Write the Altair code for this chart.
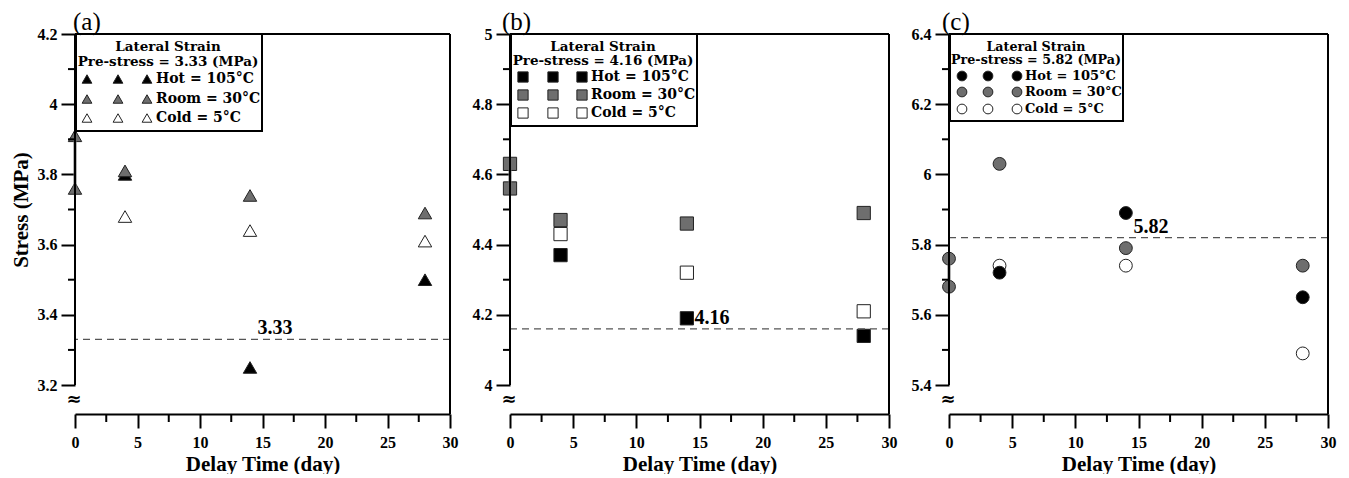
import altair as alt
import pandas as pd

# ---------------- data ----------------
PANEL_TAGS = ["(a)", "(b)", "(c)"]
PRESTRESS = [3.33, 4.16, 5.82]
PRESTRESS_TEXT = ["3.33", "4.16", "5.82"]
PRESTRESS_LABEL_X = [14.6, 14.6, 14.6]
PRESTRESS_LABEL_Y = [3.362, 4.19, 5.85]

SERIES = ["Hot", "Room", "Cold"]
SERIES_LABELS = ["Hot = 105°C", "Room = 30°C", "Cold = 5°C"]
LEGEND_TITLE = "Lateral Strain"
LEGEND_SUBTITLES = ["Pre-stress = 3.33 (MPa)", "Pre-stress = 4.16 (MPa)", "Pre-stress = 5.82 (MPa)"]

# panel (a) – triangles
A_HOT_X = [4, 14, 28]
A_HOT_Y = [3.80, 3.25, 3.50]
A_ROOM_X = [0, 0, 4, 14, 28]
A_ROOM_Y = [3.91, 3.76, 3.81, 3.74, 3.69]
A_COLD_X = [4, 14, 28]
A_COLD_Y = [3.68, 3.64, 3.61]

# panel (b) – squares
B_HOT_X = [4, 14, 28]
B_HOT_Y = [4.37, 4.19, 4.14]
B_ROOM_X = [0, 0, 4, 14, 28]
B_ROOM_Y = [4.63, 4.56, 4.47, 4.46, 4.49]
B_COLD_X = [4, 14, 28]
B_COLD_Y = [4.43, 4.32, 4.21]

# panel (c) – circles
C_HOT_X = [4, 14, 28]
C_HOT_Y = [5.72, 5.89, 5.65]
C_ROOM_X = [0, 0, 4, 14, 28]
C_ROOM_Y = [5.76, 5.68, 6.03, 5.79, 5.74]
C_COLD_X = [4, 14, 28]
C_COLD_Y = [5.74, 5.74, 5.49]

# axis ticks
X_MAJOR = [0, 5, 10, 15, 20, 25, 30]
X_MINOR = [2.5, 7.5, 12.5, 17.5, 22.5, 27.5]
A_Y_MAJOR = [3.2, 3.4, 3.6, 3.8, 4.0, 4.2]
A_Y_MINOR = [3.3, 3.5, 3.7, 3.9, 4.1]
B_Y_MAJOR = [4.0, 4.2, 4.4, 4.6, 4.8, 5.0]
B_Y_MINOR = [4.1, 4.3, 4.5, 4.7, 4.9]
C_Y_MAJOR = [5.4, 5.6, 5.8, 6.0, 6.2, 6.4]
C_Y_MINOR = [5.5, 5.7, 5.9, 6.1, 6.3]

# ---------------- styling / layout ----------------
FONT = "Liberation Serif"
LFONT = "DejaVu Serif"
FILLS = ["#000000", "#6e6e6e", "#ffffff"]
H = 380
WIDTHS = [375, 379, 379]
TITLE_DX = [-2, -8, -7]
BREAK_FRAC = 0.0826  # extra room below the lowest tick (axis break)
SHAPES = ["triangle-up", "square", "circle"]
MARK_SIZES = [180, 175, 165]
LEG_SYM_SIZES = [95, 105, 95]

LEGEND_LAYOUT = [
    dict(w=187, h=97, cx=93, ty=[13, 28], rows=[45, 65, 84], sx=[12, 43, 72], lx=81, fs_t=13.5, fs_r=14),
    dict(w=187, h=92, cx=93, ty=[13, 27], rows=[43, 61, 79], sx=[13, 43, 72], lx=81, fs_t=13.5, fs_r=14),
    dict(w=174, h=87, cx=87, ty=[13, 26], rows=[42, 58, 75], sx=[13, 39, 68], lx=76, fs_t=12.7, fs_r=13),
]

fill_scale = alt.Scale(domain=SERIES, range=FILLS)


def make_panel(i, hot, room, cold, y_major, y_minor):
    W = WIDTHS[i]
    lo, hi = y_major[0], y_major[-1]
    ydom = [lo - BREAK_FRAC * (hi - lo), hi]
    xs = alt.Scale(domain=[0, 30], nice=False, zero=False)
    ys = alt.Scale(domain=ydom, nice=False, zero=False)
    y_lo_px = H * (1 - (lo - ydom[0]) / (hi - ydom[0]))

    rows = []
    for name, (xx, yy) in (("Cold", cold), ("Hot", hot), ("Room", room)):
        for a, b in zip(xx, yy):
            rows.append({"day": a, "stress": b, "series": name})
    df = pd.DataFrame(rows)

    x_axis = alt.Axis(values=X_MAJOR, format="~g")
    y_axis = alt.Axis(values=y_major, format="~g", titleY=y_lo_px / 2)
    y_title = "Stress (MPa)" if i == 0 else None

    one = pd.DataFrame({"k": [0]})

    pts = alt.Chart(df).mark_point(filled=True, shape=SHAPES[i], size=MARK_SIZES[i], opacity=1,
                                   stroke="#222222", strokeWidth=1).encode(
        x=alt.X("day:Q", scale=xs, axis=x_axis, title="Delay Time (day)"),
        y=alt.Y("stress:Q", scale=ys, axis=y_axis, title=y_title),
        fill=alt.Fill("series:N", scale=fill_scale, legend=None),
    )

    # frame: y axis line (stops at lowest tick), top and right borders
    y_line = alt.Chart(one).mark_rule(color="black", strokeWidth=2).encode(
        x=alt.X(datum=0, scale=xs), y=alt.Y(datum=lo, scale=ys), y2=alt.Y2(datum=hi))
    top_line = alt.Chart(one).mark_rule(color="black", strokeWidth=2).encode(
        x=alt.value(0), x2=alt.value(W), y=alt.value(0))
    right_line = alt.Chart(one).mark_rule(color="black", strokeWidth=2).encode(
        x=alt.value(W), y=alt.value(0), y2=alt.value(H))
    brk = alt.Chart(one).mark_text(text="≈", font="DejaVu Serif", fontSize=18, fontWeight="bold",
                                   color="black").encode(x=alt.value(-1), y=alt.value(H - 14))

    y_minor_ticks = alt.Chart(pd.DataFrame({"v": y_minor})).mark_rule(color="black", strokeWidth=2).encode(
        y=alt.Y("v:Q", scale=ys), x=alt.value(-7), x2=alt.value(0))
    x_minor_ticks = alt.Chart(pd.DataFrame({"v": X_MINOR})).mark_rule(color="black", strokeWidth=2).encode(
        x=alt.X("v:Q", scale=xs), y=alt.value(H), y2=alt.value(H + 8))

    # reference (pre-stress) line and its label
    ref = alt.Chart(pd.DataFrame({"v": [PRESTRESS[i]]})).mark_rule(
        color="#555555", strokeWidth=1.2, strokeDash=[7, 5]).encode(y=alt.Y("v:Q", scale=ys))
    ref_lbl = alt.Chart(pd.DataFrame({"x": [PRESTRESS_LABEL_X[i]], "y": [PRESTRESS_LABEL_Y[i]],
                                      "t": [PRESTRESS_TEXT[i]]})).mark_text(
        font=FONT, fontSize=20, fontWeight="bold", align="left", baseline="middle", color="black").encode(
        x=alt.X("x:Q", scale=xs), y=alt.Y("y:Q", scale=ys), text="t:N")

    # grey connector between the two day-0 room readings
    r0 = [b for a, b in zip(*room) if a == 0]
    conn = alt.Chart(pd.DataFrame({"y1": [min(r0)], "y2": [max(r0)], "x": [0]})).mark_rule(
        color="#6e6e6e", strokeWidth=3).encode(
        x=alt.X("x:Q", scale=xs), y=alt.Y("y1:Q", scale=ys), y2="y2:Q")

    # custom legend (three symbols per row, as in the figure)
    L = LEGEND_LAYOUT[i]
    box = alt.Chart(one).mark_rect(fill="white", stroke="black", strokeWidth=2).encode(
        x=alt.value(1), x2=alt.value(L["w"]), y=alt.value(0), y2=alt.value(L["h"]))
    head = alt.Chart(pd.DataFrame({"px": [L["cx"], L["cx"]], "py": L["ty"],
                                   "t": [LEGEND_TITLE, LEGEND_SUBTITLES[i]]})).mark_text(
        font=LFONT, fontSize=L["fs_t"], fontWeight="bold", align="center", baseline="middle", color="black").encode(
        x=alt.X("px:Q", scale=None), y=alt.Y("py:Q", scale=None), text="t:N")
    sym_rows = []
    for s, ry in zip(SERIES, L["rows"]):
        for sx in L["sx"]:
            sym_rows.append({"px": sx, "py": ry, "series": s})
    syms = alt.Chart(pd.DataFrame(sym_rows)).mark_point(filled=True, shape=SHAPES[i], size=LEG_SYM_SIZES[i],
                                                       opacity=1, stroke="#222222", strokeWidth=1).encode(
        x=alt.X("px:Q", scale=None), y=alt.Y("py:Q", scale=None),
        fill=alt.Fill("series:N", scale=fill_scale, legend=None))
    labs = alt.Chart(pd.DataFrame({"px": [L["lx"]] * 3, "py": L["rows"], "t": SERIES_LABELS})).mark_text(
        font=LFONT, fontSize=L["fs_r"], fontWeight="bold", align="left", baseline="middle", color="black").encode(
        x=alt.X("px:Q", scale=None), y=alt.Y("py:Q", scale=None), text="t:N")

    layer = alt.layer(pts, ref, ref_lbl, conn, y_line, top_line, right_line, brk,
                      y_minor_ticks, x_minor_ticks, box, head, syms, labs).properties(
        width=W, height=H,
        title=alt.TitleParams(PANEL_TAGS[i], anchor="start", frame="group", font=FONT, fontSize=25,
                              fontWeight="normal", color="black", offset=-9, dx=TITLE_DX[i]),
    )
    return layer


pa = make_panel(0, (A_HOT_X, A_HOT_Y), (A_ROOM_X, A_ROOM_Y), (A_COLD_X, A_COLD_Y), A_Y_MAJOR, A_Y_MINOR)
pb = make_panel(1, (B_HOT_X, B_HOT_Y), (B_ROOM_X, B_ROOM_Y), (B_COLD_X, B_COLD_Y), B_Y_MAJOR, B_Y_MINOR)
pc = make_panel(2, (C_HOT_X, C_HOT_Y), (C_ROOM_X, C_ROOM_Y), (C_COLD_X, C_COLD_Y), C_Y_MAJOR, C_Y_MINOR)

chart = alt.hconcat(pa, pb, pc, spacing=60, bounds="flush").properties(
    padding={"left": 2, "top": 2, "right": 5, "bottom": 0}, background="white"
).configure_view(stroke=None).configure_axis(
    grid=False, tickSize=14, tickWidth=2, tickColor="black",
    domainWidth=2, domainColor="black",
    labelFont=FONT, labelFontSize=16, labelFontWeight="bold", labelColor="black",
    labelPadding=4, labelFlush=False,
    titleFont=FONT, titleFontWeight="bold", titleColor="black",
).configure_axisX(
    labelPadding=6, titleFontSize=21, titlePadding=3,
).configure_axisY(
    domain=False, titleFontSize=21, titlePadding=6,
)

chart.save("out.html", embed_options={"renderer": "svg", "actions": False})
